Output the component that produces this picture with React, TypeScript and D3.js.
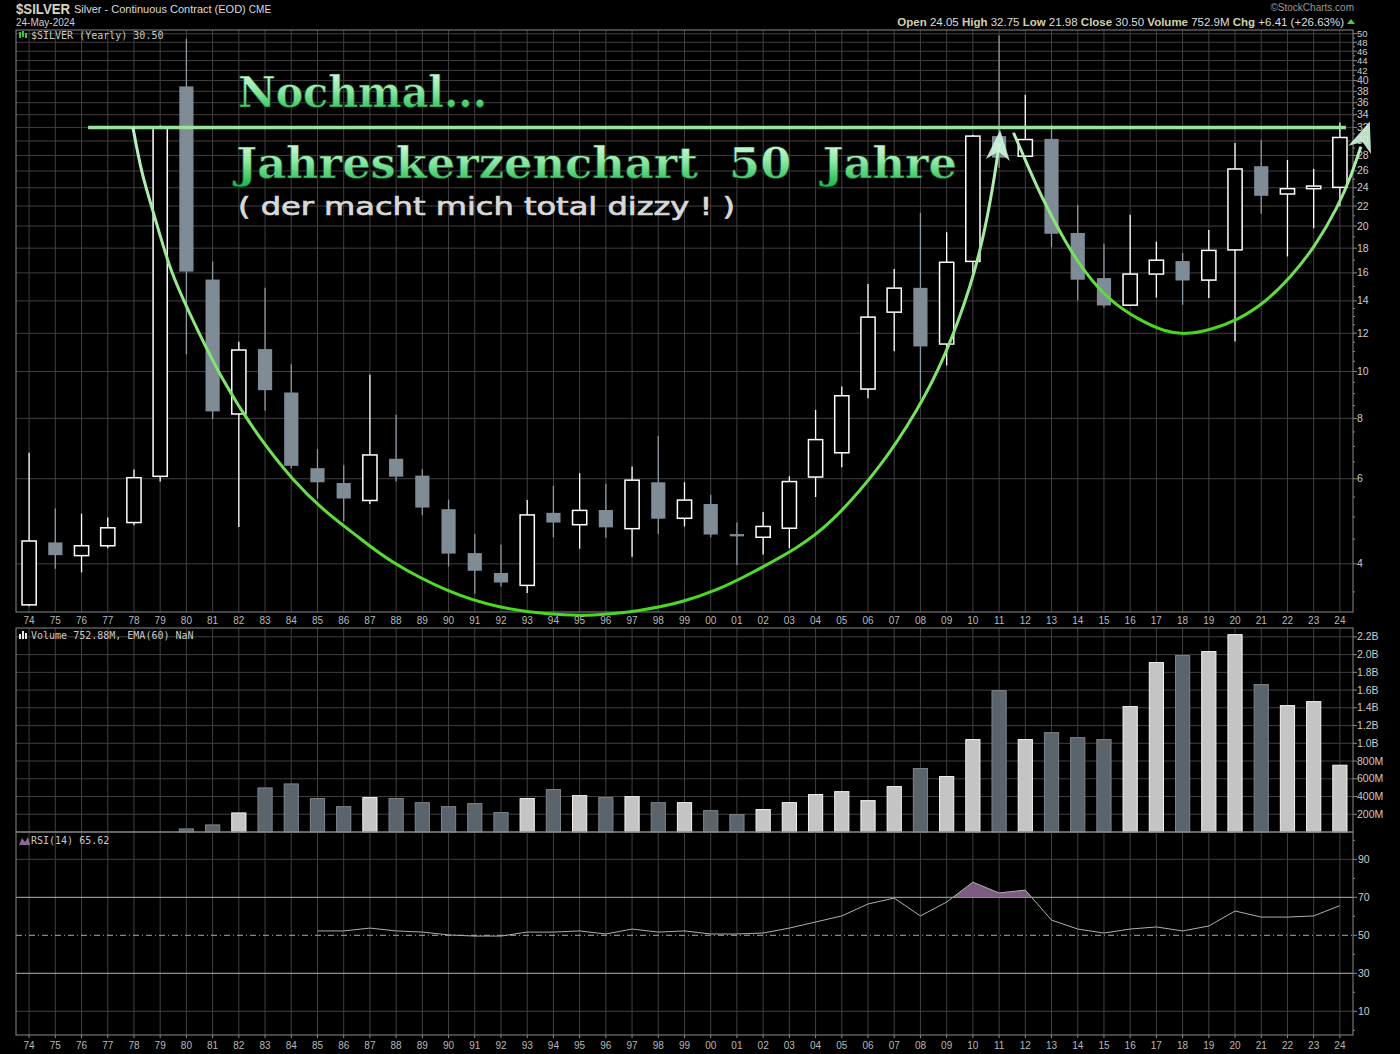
import React from 'react'
import * as d3 from 'd3'

// Jahreskerzen $SILVER 1974-2024
const years = ['74', '75', '76', '77', '78', '79', '80', '81', '82', '83', '84', '85', '86', '87', '88', '89', '90', '91', '92', '93', '94', '95', '96', '97', '98', '99', '00', '01', '02', '03', '04', '05', '06', '07', '08', '09', '10', '11', '12', '13', '14', '15', '16', '17', '18', '19', '20', '21', '22', '23', '24']

const opens = [3.29, 4.43, 4.16, 4.36, 4.87, 6.07, 38.9, 15.5, 8.17, 11.13, 9.05, 6.31, 5.88, 5.41, 6.6, 6.09, 5.19, 4.21, 3.83, 3.61, 5.1, 4.82, 5.17, 4.73, 5.9, 4.97, 5.32, 4.61, 4.54, 4.74, 6.05, 6.79, 9.2, 13.27, 14.9, 11.4, 16.9, 30.7, 27.9, 30.3, 19.35, 15.61, 13.72, 15.91, 16.93, 15.46, 17.85, 26.6, 23.3, 23.9, 24.05]
const highs = [6.79, 5.21, 5.08, 4.99, 6.27, 32.3, 48.8, 16.9, 11.52, 14.9, 10.35, 6.91, 6.4, 9.85, 8.14, 6.28, 5.43, 4.61, 4.38, 5.42, 5.8, 6.16, 5.86, 6.36, 7.36, 5.9, 5.56, 4.87, 5.12, 6.07, 8.33, 9.31, 15.17, 16.3, 21.3, 19.42, 30.9, 49.6, 37.4, 32.4, 22.1, 18.39, 21.1, 18.56, 17.59, 19.62, 29.7, 30.1, 27.4, 26.25, 32.75]
const lows = [3.27, 3.91, 3.84, 4.31, 4.81, 5.92, 10.86, 7.97, 4.77, 8.31, 6.31, 5.46, 4.9, 5.32, 5.92, 5.04, 3.95, 3.47, 3.59, 3.48, 4.54, 4.3, 4.53, 4.14, 4.61, 4.78, 4.54, 3.98, 4.18, 4.31, 5.5, 6.34, 8.81, 11.01, 8.76, 10.29, 15.8, 26.4, 27.9, 18.07, 14.03, 13.57, 13.66, 14.23, 13.74, 14.19, 11.54, 21.2, 17.3, 19.8, 21.98]
const closes = [4.46, 4.17, 4.36, 4.75, 6.03, 32.0, 16.1, 8.27, 11.08, 9.15, 6.38, 5.9, 5.46, 6.72, 6.06, 5.23, 4.2, 3.87, 3.66, 5.05, 4.87, 5.16, 4.76, 5.96, 4.96, 5.42, 4.6, 4.56, 4.78, 5.92, 7.23, 8.91, 12.96, 14.88, 11.27, 16.83, 30.7, 27.7, 30.2, 19.28, 15.49, 13.7, 15.91, 17.0, 15.43, 17.81, 26.25, 23.1, 23.9, 24.2, 30.5]

// Volumen in Mio.
const volumes = [0, 0, 0, 0, 0, 0, 35, 80, 215, 497, 542, 377, 286, 388, 377, 331, 286, 320, 219, 377, 478, 410, 388, 399, 331, 331, 241, 196, 253, 331, 422, 455, 354, 512, 715, 625, 1042, 1594, 1042, 1120, 1064, 1042, 1414, 1910, 1989, 2034, 2225, 1662, 1425, 1470, 752.9]

// RSI(14), erst ab 85
const rsiValues: (number | null)[] = [null, null, null, null, null, null, null, null, null, null, null,
  52.3, 52.3, 53.8, 52.3, 51.7, 50.2, 49.6, 49.6, 51.7, 51.7, 52.3, 50.7, 53.3, 51.7, 52.3,
  50.7, 50.7, 51.2, 53.8, 57, 60.2, 66.5, 69.6, 60.2, 67.5, 78, 72.3, 73.8, 58, 53.3, 51.2, 53.3, 54.4, 52.3, 54.9, 62.8, 59.6, 59.6, 60.2, 65.62]

const priceTicks = [4, 6, 8, 10, 12, 14, 16, 18, 20, 22, 24, 26, 28, 30, 32, 34, 36, 38, 40, 42, 44, 46, 48, 50]
const volumeTicks = [200, 400, 600, 800, 1000, 1200, 1400, 1600, 1800, 2000, 2200]
const volumeTickLabels = ['200M', '400M', '600M', '800M', '1.0B', '1.2B', '1.4B', '1.6B', '1.8B', '2.0B', '2.2B']
const rsiTicks = [10, 30, 50, 70, 90]

// Zeichnungen: [Jahres-Index, Kurs]
const cupBig: [number, number][] = [
  [3.96, 32.0], [4.3, 25.5], [4.72, 21.6], [5.37, 16.2], [6.02, 13.55], [7.39, 9.48], [8.91, 7.12], [10.05, 5.97],
  [11.2, 5.17], [12.6, 4.53], [13.75, 4.04], [16.03, 3.48], [17.94, 3.24], [19.84, 3.14], [21.48, 3.12],
  [23.38, 3.2], [24.9, 3.33], [26.2, 3.52], [27.46, 3.8], [29.36, 4.33], [30.5, 4.8], [32.41, 6.25],
  [33.93, 8.37], [34.96, 10.78], [35.95, 15.12], [36.48, 19.75], [36.86, 25.91], [37.0, 29.6]
]
const cupBigTip: [number, number] = [37.04, 31.6]
const cupSmall: [number, number][] = [
  [37.55, 31.2], [38.0, 27.4], [38.61, 23.0], [39.53, 18.47], [40.29, 16.0], [41.17, 14.08], [42.31, 12.8],
  [43.33, 12.09], [44.09, 11.92], [45.09, 12.2], [46.12, 12.8], [47.14, 13.88], [48.13, 15.7], [49.05, 18.12],
  [49.92, 21.9], [50.42, 25.3], [50.8, 29.2]
]
const cupSmallTip: [number, number] = [51.14, 32.9]
const resistance = { from: 2.25, to: 50.23, price: 32 }

const W = 1400
const H = 1054
const L = 16
const R = 1353
const price = { top: 30, bottom: 612 }
const vol = { top: 628, bottom: 832 }
const rsiP = { top: 832, bottom: 1035 }

const grid = '#404040'
const border = '#8a8a8a'
const axisFont = 'Liberation Sans, Arial, sans-serif'
const monoFont = 'DejaVu Sans Mono, monospace'

function arrowPoints(tip: [number, number], from: [number, number], len = 28, half = 11) {
  const dx = tip[0] - from[0]
  const dy = tip[1] - from[1]
  const n = Math.hypot(dx, dy) || 1
  const ux = dx / n, uy = dy / n
  const px = -uy, py = ux
  const bx = tip[0] - ux * len, by = tip[1] - uy * len
  const nx = tip[0] - ux * len * 0.72, ny = tip[1] - uy * len * 0.72
  return [
    [tip[0], tip[1]],
    [bx + px * half, by + py * half],
    [nx, ny],
    [bx - px * half, by - py * half]
  ].map(p => p.join(',')).join(' ')
}

export default function App() {
  const x = d3.scaleBand<string>().domain(years).range([L, R]).paddingInner(0.42).paddingOuter(0.21)
  const bw = x.bandwidth()
  const cx = (yr: string) => (x(yr) as number) + bw / 2
  const xIdx = d3.scaleLinear().domain([0, years.length - 1]).range([cx(years[0]), cx(years[years.length - 1])])

  const yPrice = d3.scaleLog().domain([3.18, 50.9]).range([price.bottom, price.top])
  const yVol = d3.scaleLinear().domain([0, 2300]).range([vol.bottom, vol.top])
  const yRsi = d3.scaleLinear().domain([-2.5, 104.4]).range([rsiP.bottom, rsiP.top])

  const minorPrice: number[] = []
  for (let v = 3.5; v < 14; v += 0.5) if (!priceTicks.includes(v)) minorPrice.push(v)
  for (let v = 15; v < 50; v += 2) minorPrice.push(v)

  const cupLine = d3.line<[number, number]>()
    .x(d => xIdx(d[0]))
    .y(d => yPrice(d[1]))
    .curve(d3.curveBasis)

  const rsiPts = years.map((yr, i) => ({ yr, v: rsiValues[i] })).filter(d => d.v !== null) as { yr: string, v: number }[]
  const rsiLine = d3.line<{ yr: string, v: number }>().x(d => cx(d.yr)).y(d => yRsi(d.v))
  const rsiArea = d3.area<{ yr: string, v: number }>().x(d => cx(d.yr)).y0(yRsi(70)).y1(d => yRsi(d.v))

  const bigLast = cupBig[cupBig.length - 1]
  const smallLast = cupSmall[cupSmall.length - 1]
  const tipPx = (p: [number, number]): [number, number] => [xIdx(p[0]), yPrice(p[1])]

  const verticalGrid = (top: number, bottom: number) =>
    years.map(yr => <line key={yr} x1={cx(yr)} x2={cx(yr)} y1={top} y2={bottom} stroke={grid} strokeWidth={1} />)

  const xLabels = (yy: number) =>
    years.map(yr => (
      <text key={yr} x={cx(yr)} y={yy} textAnchor="middle" fontSize={10} fill="#b8b8b8" fontFamily={axisFont}>{yr}</text>
    ))

  const lbl = (s: string) => <tspan fontWeight="bold" fill="#d2d2a8">{s}</tspan>

  return (
    <svg width={W} height={H} style={{ position: 'absolute', left: 0, top: 0, background: '#000' }}>
      <defs>
        <linearGradient id="titleGrad" x1="0" y1="0" x2="0" y2="1">
          <stop offset="0" stopColor="#e4fbe8" />
          <stop offset="0.45" stopColor="#8fe8a6" />
          <stop offset="1" stopColor="#12b244" />
        </linearGradient>
        <linearGradient id="cupGrad1" gradientUnits="userSpaceOnUse" x1="0" y1={127} x2="0" y2={616}>
          <stop offset="0" stopColor="#bdf0c4" />
          <stop offset="1" stopColor="#48d81c" />
        </linearGradient>
        <linearGradient id="cupGrad2" gradientUnits="userSpaceOnUse" x1="0" y1={125} x2="0" y2={336}>
          <stop offset="0" stopColor="#c4f0cc" />
          <stop offset="1" stopColor="#46d41c" />
        </linearGradient>
        <clipPath id="rsiAbove">
          <rect x={L} y={rsiP.top} width={R - L} height={yRsi(70) - rsiP.top} />
        </clipPath>
      </defs>
      <rect x={0} y={0} width={W} height={H} fill="#000" />

      {/* Kopfzeile */}
      <text x={16} y={14} fontFamily={axisFont} fontSize={14} fontWeight="bold" fill="#d6d6bc"
        textLength={54} lengthAdjust="spacingAndGlyphs">$SILVER</text>
      <text x={74} y={13} fontFamily={axisFont} fontSize={11} fill="#dcdcdc">Silver - Continuous Contract (EOD) <tspan fontSize={10}>CME</tspan></text>
      <text x={16} y={26} fontFamily={axisFont} fontSize={10} fill="#cfcfcf">24-May-2024</text>
      <text x={1354} y={11} textAnchor="end" fontFamily={axisFont} fontSize={10} fill="#9a9a9a">©StockCharts.com</text>
      <text x={1344} y={26} textAnchor="end" fontFamily={axisFont} fontSize={11.5} fill="#dedede">
        {lbl('Open')} 24.05 {lbl('High')} 32.75 {lbl('Low')} 21.98 {lbl('Close')} 30.50 {lbl('Volume')} 752.9M {lbl('Chg')} +6.41 (+26.63%)
      </text>
      <polygon points="1347,24 1355,24 1351,19" fill="#4ccc4c" />

      {/* Kurs-Panel */}
      {verticalGrid(price.top, price.bottom)}
      {priceTicks.map(t => (
        <line key={t} x1={L} x2={R} y1={yPrice(t)} y2={yPrice(t)} stroke={grid} strokeWidth={1} />
      ))}
      <rect x={L} y={price.top} width={R - L} height={price.bottom - price.top} fill="none" stroke={border} strokeWidth={1} />
      {priceTicks.map(t => (
        <g key={t}>
          <line x1={R} x2={R + 4} y1={yPrice(t)} y2={yPrice(t)} stroke={border} />
          <text x={R + 4} y={yPrice(t) + 3.5} fontSize={t > 40 ? 9.5 : 10.5} fill="#cccccc" fontFamily={axisFont}>{t}</text>
        </g>
      ))}
      {minorPrice.map(t => (
        <line key={t} x1={R} x2={R + 2} y1={yPrice(t)} y2={yPrice(t)} stroke={border} />
      ))}

      {years.map((yr, i) => {
        const up = closes[i] >= opens[i]
        const top = yPrice(Math.max(opens[i], closes[i]))
        const bot = yPrice(Math.min(opens[i], closes[i]))
        const c = cx(yr)
        return (
          <g key={yr}>
            <line x1={c} x2={c} y1={yPrice(highs[i])} y2={yPrice(lows[i])} stroke={up ? '#ffffff' : '#8c979f'} strokeWidth={1.3} />
            <rect x={(x(yr) as number) + 0.5} y={top} width={bw - 1} height={Math.max(bot - top, 2)}
              fill={up ? '#000' : '#7f8b95'} stroke={up ? '#ffffff' : 'none'} strokeWidth={1.5} />
          </g>
        )
      })}

      <g fontFamily={monoFont} fontSize={10}>
        <rect x={19} y={32} width={2} height={6} fill="#39c639" />
        <rect x={22} y={31} width={2} height={6} fill="#39c639" />
        <rect x={25} y={33} width={2} height={5} fill="#39c639" />
        <text x={31} y={39} fill="#c8c8c8">$SILVER (Yearly) 30.50</text>
      </g>

      {/* Zeichnungen */}
      <line x1={xIdx(resistance.from)} x2={xIdx(resistance.to)} y1={yPrice(resistance.price)} y2={yPrice(resistance.price)}
        stroke="#9ae49a" strokeWidth={3.5} />
      <path d={cupLine(cupBig) || ''} fill="none" stroke="url(#cupGrad1)" strokeWidth={3} />
      <polygon points={arrowPoints(tipPx(cupBigTip), tipPx(bigLast), 30, 12)} fill="#cdf2d8" opacity={0.92} />
      <path d={cupLine(cupSmall) || ''} fill="none" stroke="url(#cupGrad2)" strokeWidth={3} />
      <polygon points={arrowPoints(tipPx(cupSmallTip), tipPx(smallLast), 30, 12)} fill="#cdf2d8" opacity={0.92} />

      <text x={238} y={107} fontFamily="DejaVu Serif, serif" fontWeight="bold" fontSize={42}
        textLength={249} lengthAdjust="spacingAndGlyphs" fill="url(#titleGrad)" stroke="#0b3a18" strokeWidth={0.6}>Nochmal...</text>
      <text x={236} y={178} fontFamily="DejaVu Serif, serif" fontWeight="bold" fontSize={42}
        textLength={721} lengthAdjust="spacingAndGlyphs" fill="url(#titleGrad)" stroke="#0b3a18" strokeWidth={0.6}
        style={{ whiteSpace: 'pre' }}>{'Jahreskerzenchart  50  Jahre'}</text>
      <text x={238} y={215} fontFamily="DejaVu Sans, sans-serif" fontSize={24}
        textLength={497} lengthAdjust="spacingAndGlyphs" fill="#d8d8d8" stroke="#d8d8d8" strokeWidth={0.7}>( der macht mich total dizzy ! )</text>

      {xLabels(624)}

      {/* Volumen */}
      {verticalGrid(vol.top, vol.bottom)}
      {volumeTicks.map(t => (
        <line key={t} x1={L} x2={R} y1={yVol(t)} y2={yVol(t)} stroke={grid} />
      ))}
      {years.map((yr, i) => {
        if (!volumes[i]) return null
        const up = closes[i] >= opens[i]
        return (
          <rect key={yr} x={(x(yr) as number) + 0.5} y={yVol(volumes[i])} width={bw - 1} height={yVol(0) - yVol(volumes[i])}
            fill={up ? '#c4c4c4' : '#5b636b'} stroke={up ? '#f4f4f4' : '#7c858d'} strokeWidth={1} />
        )
      })}
      <rect x={L} y={vol.top} width={R - L} height={vol.bottom - vol.top} fill="none" stroke={border} />
      {volumeTicks.map((t, i) => (
        <g key={t}>
          <line x1={R} x2={R + 4} y1={yVol(t)} y2={yVol(t)} stroke={border} />
          <text x={R + 4} y={yVol(t) + 3.5} fontSize={10.5} fill="#cccccc" fontFamily={axisFont}>{volumeTickLabels[i]}</text>
        </g>
      ))}
      <g fontFamily={monoFont} fontSize={10}>
        <rect x={19} y={634} width={2} height={5} fill="#e8e8e8" />
        <rect x={22} y={631} width={2} height={8} fill="#e8e8e8" />
        <rect x={25} y={633} width={2} height={6} fill="#e8e8e8" />
        <text x={31} y={639} fill="#c8c8c8">Volume 752.88M, EMA(60) NaN</text>
      </g>

      {/* RSI */}
      {verticalGrid(rsiP.top, rsiP.bottom)}
      {[10, 90].map(t => (
        <line key={t} x1={L} x2={R} y1={yRsi(t)} y2={yRsi(t)} stroke={grid} />
      ))}
      <line x1={L} x2={R} y1={yRsi(70)} y2={yRsi(70)} stroke="#b4b4b4" />
      <line x1={L} x2={R} y1={yRsi(30)} y2={yRsi(30)} stroke="#b4b4b4" />
      <line x1={L} x2={R} y1={yRsi(50)} y2={yRsi(50)} stroke="#a8a8a8" strokeDasharray="6,3,1,3" />
      <path d={rsiArea(rsiPts) || ''} fill="#7c5c80" clipPath="url(#rsiAbove)" />
      <path d={rsiLine(rsiPts) || ''} fill="none" stroke="#b0b0b0" strokeWidth={1} />
      <rect x={L} y={rsiP.top} width={R - L} height={rsiP.bottom - rsiP.top} fill="none" stroke={border} />
      {rsiTicks.map(t => (
        <g key={t}>
          <line x1={R} x2={R + 4} y1={yRsi(t)} y2={yRsi(t)} stroke={border} />
          <text x={R + 5} y={yRsi(t) + 3.5} fontSize={10.5} fill="#cccccc" fontFamily={axisFont}>{t}</text>
        </g>
      ))}
      {[0, 20, 40, 60, 80, 100].map(t => (
        <line key={t} x1={R} x2={R + 2} y1={yRsi(t)} y2={yRsi(t)} stroke={border} />
      ))}
      <g fontFamily={monoFont} fontSize={10}>
        <polygon points="19,845 22,838 25,842 28,837 30,845" fill="#8a6a90" />
        <text x={31} y={844} fill="#c8c8c8">RSI(14) 65.62</text>
      </g>

      {years.map(yr => (
        <line key={yr} x1={cx(yr)} x2={cx(yr)} y1={rsiP.bottom} y2={rsiP.bottom + 3} stroke={border} />
      ))}
      {xLabels(1049)}
    </svg>
  )
}
